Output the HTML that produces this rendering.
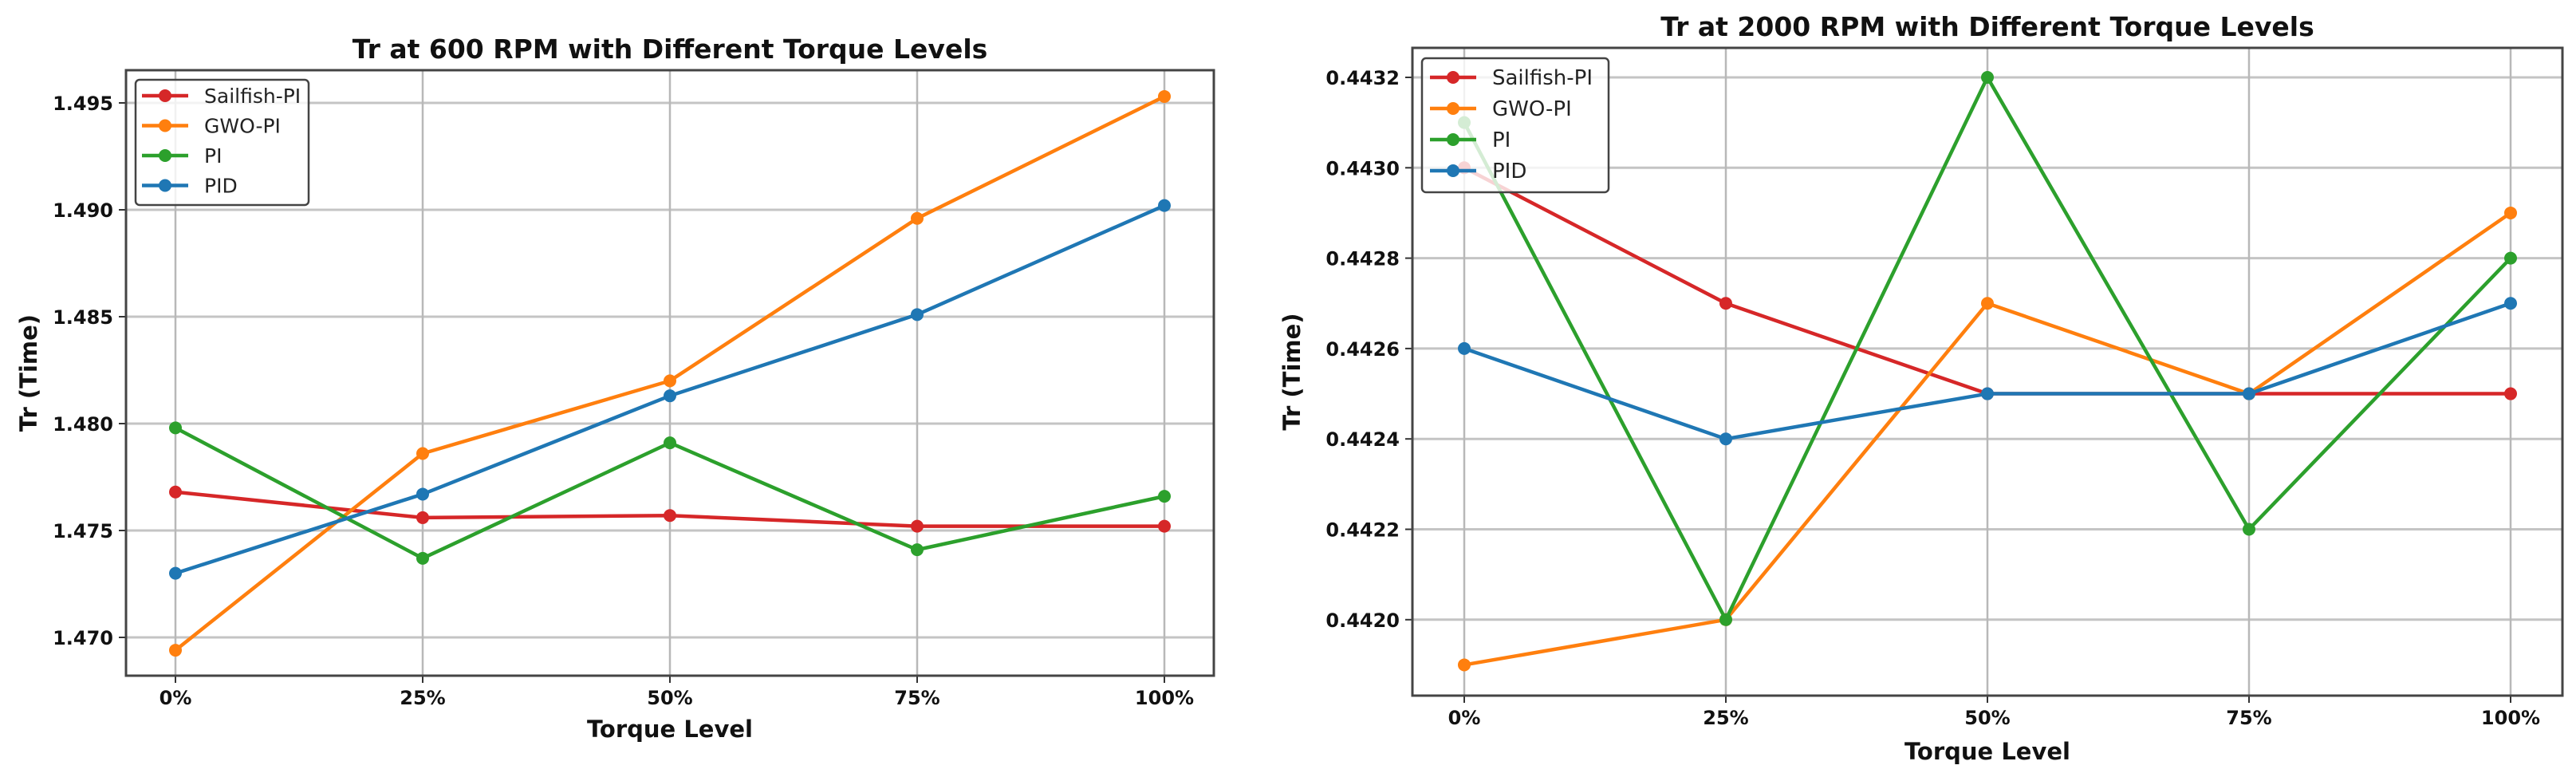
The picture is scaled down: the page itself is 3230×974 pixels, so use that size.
<!DOCTYPE html>
<html><head><meta charset="utf-8">
<style>
html,body{margin:0;padding:0;background:#fff;}
svg{display:block;font-family:"DejaVu Sans","Liberation Sans",sans-serif;}
</style></head>
<body>
<svg id="fig" width="3230" height="974" viewBox="0 0 3230 974" xmlns="http://www.w3.org/2000/svg"></svg>
<script>
const categories = ["0%","25%","50%","75%","100%"];
const seriesNames = ["Sailfish-PI","GWO-PI","PI","PID"];
const seriesColors = ["#d62728","#ff7f0e","#2ca02c","#1f77b4"];

const left_sailfish = [1.4768,1.4756,1.4757,1.4752,1.4752];
const left_gwo = [1.4694,1.4786,1.4820,1.4896,1.4953];
const left_pi = [1.4798,1.4737,1.4791,1.4741,1.4766];
const left_pid = [1.4730,1.4767,1.4813,1.4851,1.4902];
const leftTicks = [1.470,1.475,1.480,1.485,1.490,1.495];
const leftTickLabels = ["1.470","1.475","1.480","1.485","1.490","1.495"];

const right_sailfish = [0.4430,0.4427,0.4425,0.4425,0.4425];
const right_gwo = [0.4419,0.4420,0.4427,0.4425,0.4429];
const right_pi = [0.4431,0.4420,0.4432,0.4422,0.4428];
const right_pid = [0.4426,0.4424,0.4425,0.4425,0.4427];
const rightTicks = [0.4420,0.4422,0.4424,0.4426,0.4428,0.4430,0.4432];
const rightTickLabels = ["0.4420","0.4422","0.4424","0.4426","0.4428","0.4430","0.4432"];

const NS="http://www.w3.org/2000/svg";
const svg=document.getElementById('fig');
function mk(tag,attrs,parent){const e=document.createElementNS(NS,tag);for(const k in attrs)e.setAttribute(k,attrs[k]);(parent||svg).appendChild(e);return e;}

function drawChart(cfg){
  const g=mk('g',{});
  
  
  const {L,R,T,B}=cfg.box;
  const xs=i=>cfg.x0+i*cfg.dx;
  const ys=v=>cfg.yRef+(cfg.vRef-v)*cfg.pxPerUnit;
  // grid
  cfg.ticks.forEach((t,i)=>{
    const y=ys(t);
    const gl=mk('line',{x1:L,x2:R,y1:y,y2:y,stroke:'#c4c4c4','stroke-width':3},g);
    
    
    mk('line',{x1:L-9,x2:L,y1:y,y2:y,stroke:'#333','stroke-width':2},g);
    const tl=mk('text',{x:L-16,y:y+9,'text-anchor':'end','font-size':24,'font-weight':'bold',fill:'#111'},g);
    tl.textContent=cfg.tickLabels[i];
    
    
  });
  categories.forEach((c,i)=>{
    const x=xs(i);
    const gl=mk('line',{x1:x,x2:x,y1:T,y2:B,stroke:'#b8b8b8','stroke-width':2.5},g);
    
    
    mk('line',{x1:x,x2:x,y1:B,y2:B+9,stroke:'#333','stroke-width':2},g);
    const tl=mk('text',{x:x,y:B+36,'text-anchor':'middle','font-size':24,'font-weight':'bold',fill:'#111'},g);
    tl.textContent=c;
    
    
  });
  // series
  cfg.series.forEach((vals,si)=>{
    const sg=mk('g',{},g);
    
    
    const pts=vals.map((v,i)=>xs(i)+','+ys(v)).join(' ');
    const pl=mk('polyline',{points:pts,fill:'none',stroke:seriesColors[si],'stroke-width':4.5,'stroke-linejoin':'round'},sg);
    
    
    vals.forEach((v,i)=>{
      const c=mk('circle',{cx:xs(i),cy:ys(v),r:8,fill:seriesColors[si]},sg);
      
      
    });
  });
  // spine
  const sp=mk('rect',{x:L,y:T,width:R-L,height:B-T,fill:'none',stroke:'#444','stroke-width':3},g);
  
  
  // legend
  const lg=cfg.legend;
  const leg=mk('g',{},g);
  
  
  mk('rect',{x:lg.x,y:lg.y,width:lg.w,height:lg.h,rx:5,fill:'rgba(255,255,255,0.8)',stroke:'#444','stroke-width':2.5},leg);
  seriesNames.forEach((n,i)=>{
    const y=lg.y0+i*lg.dy;
    const e=mk('g',{},leg);
    
    
    mk('line',{x1:lg.lx,x2:lg.lx+58,y1:y,y2:y,stroke:seriesColors[i],'stroke-width':4.5},e);
    mk('circle',{cx:lg.lx+29,cy:y,r:8,fill:seriesColors[i]},e);
    const t=mk('text',{x:lg.lx+78,y:y+9,'font-size':lg.fs,fill:'#222'},e);
    t.textContent=n;
  });
  // titles
  const tt=mk('text',{x:(L+R)/2,y:cfg.titleY,'text-anchor':'middle','font-size':33,'font-weight':'bold',fill:'#111'},g);
  tt.textContent=cfg.title;
  
  
  const xl=mk('text',{x:(L+R)/2,y:cfg.xlabelY,'text-anchor':'middle','font-size':29,'font-weight':'bold',fill:'#111'},g);
  xl.textContent='Torque Level';
  
  
  const yl=mk('text',{x:0,y:0,'text-anchor':'middle','font-size':29,'font-weight':'bold',fill:'#111',transform:`translate(${cfg.ylabelX},${(T+B)/2}) rotate(-90)`},g);
  yl.textContent='Tr (Time)';
  
  
}

drawChart({name:'chart-600rpm',box:{L:158,R:1522,T:88,B:847},x0:220,dx:310,
  yRef:129,vRef:1.495,pxPerUnit:26800,ticks:leftTicks,tickLabels:leftTickLabels,
  series:[left_sailfish,left_gwo,left_pi,left_pid],
  legend:{x:170,y:100,w:217,h:157,lx:178,y0:120,dy:37.5,fs:25},
  title:'Tr at 600 RPM with Different Torque Levels',titleY:73,xlabelY:924,ylabelX:46});

drawChart({name:'chart-2000rpm',box:{L:1771,R:3213,T:60,B:872},x0:1836,dx:328,
  yRef:97,vRef:0.4432,pxPerUnit:566500,ticks:rightTicks,tickLabels:rightTickLabels,
  series:[right_sailfish,right_gwo,right_pi,right_pid],
  legend:{x:1783,y:73,w:234,h:168,lx:1793,y0:97,dy:39,fs:26},
  title:'Tr at 2000 RPM with Different Torque Levels',titleY:45,xlabelY:952,ylabelX:1630});
</script>
</body></html>
